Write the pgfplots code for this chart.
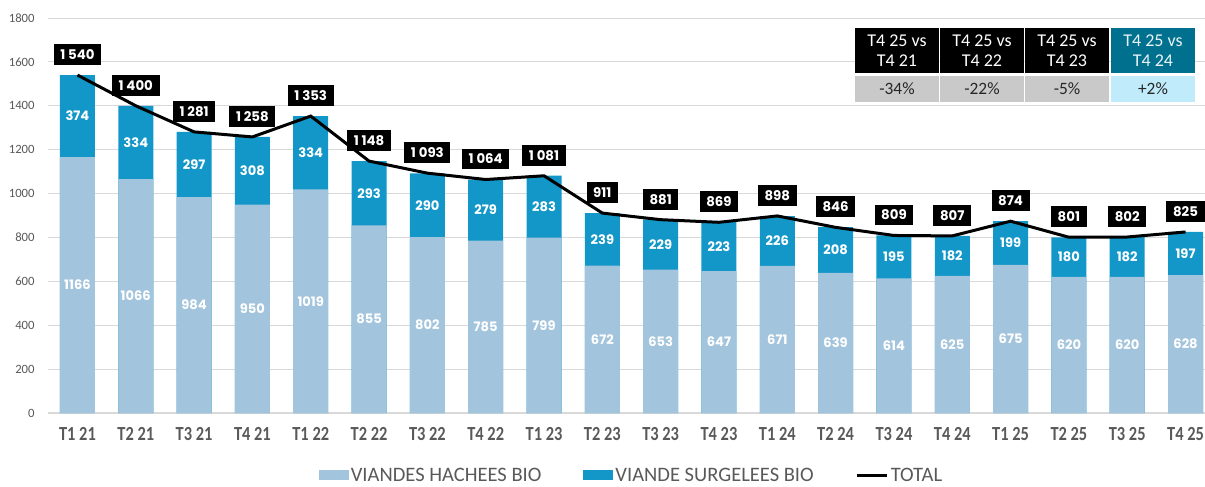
\documentclass[border=0pt]{standalone}
\usepackage{fontspec}
\setmainfont{Carlito}
\newfontfamily\tickfont{Carlito}[FakeStretch=0.82]
\newfontfamily\valfont{Poppins}
\usepackage{pgfplots}
\usepackage{pgfplotstable}
\pgfplotsset{compat=1.18}
\definecolor{lightbar}{HTML}{A2C4DC}
\definecolor{darkbar}{HTML}{1297C8}
\definecolor{gridgray}{HTML}{D9D9D9}
\definecolor{txtgray}{HTML}{595959}
\definecolor{hdrteal}{HTML}{00708F}
\definecolor{cellgray}{HTML}{C9C9C9}
\definecolor{celllight}{HTML}{BFEBFB}
\definecolor{celltxt}{HTML}{262626}
\pgfplotsset{
  barleg/.style={legend image code/.code={\fill[##1] (0pt,-3.75pt) rectangle (22.5pt,3.75pt);}},
  lineleg/.style={legend image code/.code={\draw[##1] (0pt,0pt) -- (22.5pt,0pt);}},
}

\pgfplotstableread[col sep=comma]{
x,lab,hach,surg,tot,tlab
0,T1 21,1166,374,1540,1~540
1,T2 21,1066,334,1400,1~400
2,T3 21,984,297,1281,1~281
3,T4 21,950,308,1258,1~258
4,T1 22,1019,334,1353,1~353
5,T2 22,855,293,1148,1~148
6,T3 22,802,290,1093,1~093
7,T4 22,785,279,1064,1~064
8,T1 23,799,283,1081,1~081
9,T2 23,672,239,911,911
10,T3 23,653,229,881,881
11,T4 23,647,223,869,869
12,T1 24,671,226,898,898
13,T2 24,639,208,846,846
14,T3 24,614,195,809,809
15,T4 24,625,182,807,807
16,T1 25,675,199,874,874
17,T2 25,620,180,801,801
18,T3 25,620,182,802,802
19,T4 25,628,197,825,825
}\data

\begin{document}
\begin{tikzpicture}
\path[use as bounding box] (-36.225pt,-54.75pt) rectangle (867.525pt,309.75pt);
\begin{axis}[
  at={(0,0)}, anchor=south west,
  scale only axis, width=874.8pt, height=296.25pt,
  xmin=-0.5, xmax=19.5, ymin=0, ymax=1800,
  ytick={0,200,...,1800}, xtick={0,...,19},
  xticklabels from table={\data}{lab},
  ymajorgrids, major grid style={draw=gridgray, line width=0.75pt},
  axis x line*=bottom, axis y line*=left,
  x axis line style={draw=gridgray, line width=1.5pt, -},
  y axis line style={draw=none},
  major tick length=0pt,
  yticklabel style={font=\fontsize{9.5}{11}\selectfont, text=txtgray, xshift=-6.8pt},
  xticklabel style={font=\tickfont\bfseries\fontsize{15}{17}\selectfont, text=txtgray, yshift=-7pt},
  /pgf/number format/assume math mode=true,
  /pgf/number format/1000 sep={},
  legend columns=3,
  legend cell align=left,
  legend style={at={(0.5,-0.158)}, anchor=center, draw=none, fill=none,
    font=\fontsize{15.4}{17}\selectfont, text=txtgray,
    nodes={inner sep=1.5pt},
    /tikz/every even column/.append style={column sep=30pt}},
]
% dark (total) bars
\addplot[ybar, bar width=26.25pt, bar shift=0pt, fill=darkbar, draw=none, forget plot]
  table[x=x, y expr=\thisrow{hach}+\thisrow{surg}]{\data};
% light bars
\addplot[ybar, bar width=26.25pt, bar shift=0pt, fill=lightbar, draw=none, forget plot]
  table[x=x, y=hach]{\data};
% segment labels
\addplot[draw=none, mark=none, forget plot, nodes near coords, nodes near coords align={center},
  point meta=explicit symbolic,
  every node near coord/.append style={anchor=center, text=white, font=\valfont\bfseries\fontsize{9.8}{11}\selectfont}]
  table[x=x, y expr=\thisrow{hach}/2, meta=hach]{\data};
\addplot[draw=none, mark=none, forget plot, nodes near coords, nodes near coords align={center},
  point meta=explicit symbolic,
  every node near coord/.append style={anchor=center, text=white, font=\valfont\bfseries\fontsize{9.8}{11}\selectfont}]
  table[x=x, y expr=\thisrow{hach}+\thisrow{surg}/2, meta=surg]{\data};
% total line
\addplot[black, line width=2.25pt, mark=none, forget plot, nodes near coords,
  point meta=explicit symbolic,
  every node near coord/.append style={anchor=south, yshift=6.4pt, fill=black, text=white,
    inner xsep=5pt, inner ysep=4.2pt, text height=7.3pt, text depth=0pt,
    font=\valfont\bfseries\fontsize{10}{12}\selectfont}]
  table[x=x, y=tot, meta=tlab]{\data};
% legend
\addlegendimage{fill=lightbar, draw=none, barleg}
\addlegendentry{VIANDES HACHEES BIO}
\addlegendimage{fill=darkbar, draw=none, barleg}
\addlegendentry{VIANDE SURGELEES BIO}
\addlegendimage{black, line width=2.25pt, lineleg}
\addlegendentry{TOTAL}
\end{axis}
% comparison table
\begin{scope}[x=0.75pt, y=0.75pt]
\fill[black]   (806.7,340) rectangle (890.7,385);
\fill[black]   (891.7,340) rectangle (975.7,385);
\fill[black]   (976.7,340) rectangle (1060.7,385);
\fill[hdrteal] (1062.7,340) rectangle (1146.7,385);
\fill[cellgray]  (806.7,311) rectangle (890.7,337);
\fill[cellgray]  (891.7,311) rectangle (975.7,337);
\fill[cellgray]  (976.7,311) rectangle (1060.7,337);
\fill[celllight] (1062.7,311) rectangle (1146.7,337);
\tikzset{hdr/.style={text=white, align=center, font=\fontsize{13.5}{15}\selectfont, inner sep=0pt},
         val/.style={text=celltxt, font=\fontsize{13}{15}\selectfont, inner sep=0pt}}
\node[hdr] at (848.7,362.5) {T4 25 vs\\T4 21};
\node[hdr] at (933.7,362.5) {T4 25 vs\\T4 22};
\node[hdr] at (1018.7,362.5) {T4 25 vs\\T4 23};
\node[hdr, text=white!92!hdrteal] at (1104.7,362.5) {T4 25 vs\\T4 24};
\node[val] at (848.7,324) {-34\%};
\node[val] at (933.7,324) {-22\%};
\node[val] at (1018.7,324) {-5\%};
\node[val] at (1104.7,324) {+2\%};
\end{scope}
\end{tikzpicture}
\end{document}
